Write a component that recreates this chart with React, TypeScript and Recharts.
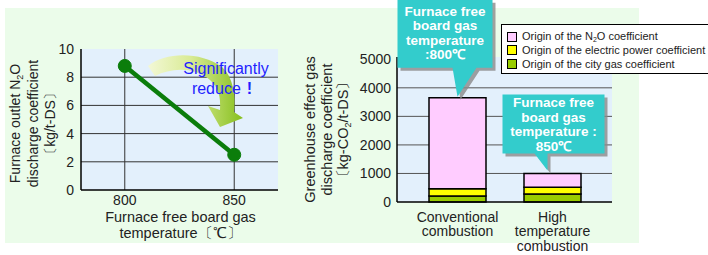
import React from 'react';
import {
  LineChart,
  Line,
  BarChart,
  Bar,
  XAxis,
  YAxis,
  CartesianGrid,
  ReferenceDot,
  Legend,
} from 'recharts';

// ---------- Left chart data ----------
const temperatures = [800, 850];
const n2oDischarge = [8.8, 2.5];
const leftYTicks = [0, 2, 4, 6, 8, 10];
const leftXTicks = [800, 850];

// ---------- Right chart data ----------
const categories = ['Conventional combustion', 'High temperature combustion'];
const categoryLines = [
  ['Conventional', 'combustion'],
  ['High', 'temperature', 'combustion'],
];
const cityGasCoef = [210, 280];
const electricCoef = [250, 240];
const n2oCoef = [3190, 480];
const rightYTicks = [0, 1000, 2000, 3000, 4000, 5000];
const legendItems = [
  { key: 'n2o', pre: 'Origin of the N', sub: '2', post: 'O coefficient', color: '#ffccff' },
  { key: 'elec', pre: 'Origin of the electric power coefficient', sub: '', post: '', color: '#ffff00' },
  { key: 'city', pre: 'Origin of the city gas coefficient', sub: '', post: '', color: '#99cc00' },
];
const callouts = [
  { cat: 0, lines: ['Furnace free', 'board gas', 'temperature', ':800℃'], dx: 0, dy: -1, box: { x: -60, y: -97, w: 95, h: 68 }, base: [-5, 19], firstBase: -81 },
  { cat: 1, lines: ['Furnace free', 'board gas', 'temperature :', '850℃'], dx: -5, dy: -3, box: { x: -45, y: -76, w: 102, h: 59 }, base: [-13, 0], firstBase: -63 },
];

const lineData = temperatures.map((t, i) => ({ temp: t, n2o: n2oDischarge[i] }));
const barData = categories.map((c, i) => ({
  cat: c,
  city: cityGasCoef[i],
  elec: electricCoef[i],
  n2o: n2oCoef[i],
}));

const FONT = '"Liberation Sans", Arial, sans-serif';
const PLOT_BG = '#e3f0fc';
const TEAL = '#33cccc';

const RotatedLabel = ({ cx, cy, fontSize, children }: any) => (
  <text
    x={cx}
    y={cy}
    dy="0.35em"
    textAnchor="middle"
    fontSize={fontSize}
    fill="#222"
    fontFamily={FONT}
    transform={`rotate(-90 ${cx} ${cy})`}
  >
    {children}
  </text>
);

const LeftYLabel = (props: any) => {
  const vb = props.viewBox || { x: 0, y: 49, width: 81, height: 141 };
  const cy = vb.y + vb.height / 2 + 4;
  return (
    <g>
      <RotatedLabel cx={vb.x + 15} cy={cy} fontSize={14}>
        <tspan>Furnace outlet N</tspan>
        <tspan fontSize={9} dy={3}>2</tspan>
        <tspan dy={-3}>O</tspan>
      </RotatedLabel>
      <RotatedLabel cx={vb.x + 33} cy={cy} fontSize={14}>discharge coefficient</RotatedLabel>
      <RotatedLabel cx={vb.x + 50} cy={cy} fontSize={14}>〔kg/t-DS〕</RotatedLabel>
    </g>
  );
};

const RightYLabel = (props: any) => {
  const vb = props.viewBox || { x: 0, y: 57, width: 107, height: 145 };
  const cy = vb.y + vb.height / 2;
  return (
    <g>
      <RotatedLabel cx={vb.x + 20} cy={cy} fontSize={14.5}>Greenhouse effect gas</RotatedLabel>
      <RotatedLabel cx={vb.x + 37} cy={cy} fontSize={14.5}>discharge coefficient</RotatedLabel>
      <RotatedLabel cx={vb.x + 53} cy={cy} fontSize={14.5}>
        <tspan>〔kg-CO</tspan>
        <tspan fontSize={9} dy={3}>2</tspan>
        <tspan dy={-3}>/t-DS〕</tspan>
      </RotatedLabel>
    </g>
  );
};

const LeftXLabel = (props: any) => {
  const vb = props.viewBox || { x: 81, y: 190, width: 197, height: 50 };
  const cx = vb.x + vb.width / 2 + 1;
  return (
    <text textAnchor="middle" fontSize={14.5} fill="#222" fontFamily={FONT}>
      <tspan x={cx} y={222}>Furnace free board gas</tspan>
      <tspan x={cx} y={238}>temperature〔℃〕</tspan>
    </text>
  );
};

const CategoryTick = (props: any) => {
  const { x, y, payload } = props;
  const idx = categories.indexOf(payload.value);
  const lines = idx >= 0 ? categoryLines[idx] : [String(payload.value)];
  return (
    <text x={x} y={y} textAnchor="middle" fontSize={14} fill="#222" fontFamily={FONT}>
      {lines.map((l, i) => (
        <tspan key={i} x={x} dy={i === 0 ? '0.71em' : 14.5}>
          {l}
        </tspan>
      ))}
    </text>
  );
};

const Callout = ({ cx, cy, cfg }: any) => {
  if (cx == null || cy == null) return null;
  const tx = cx + cfg.dx;
  const ty = cy + cfg.dy;
  const b = cfg.box;
  const left = tx + b.x;
  const top = ty + b.y;
  const right = left + b.w;
  const bottom = top + b.h;
  const pts = [
    [left, top],
    [right, top],
    [right, bottom],
    [tx + cfg.base[1], bottom],
    [tx, ty],
    [tx + cfg.base[0], bottom],
    [left, bottom],
  ];
  const toStr = (ox: number, oy: number) => pts.map((p) => `${p[0] + ox},${p[1] + oy}`).join(' ');
  const textX = (left + right) / 2;
  return (
    <g>
      <polygon points={toStr(3, 3)} fill="#8a8a8a" opacity={0.8} />
      <polygon points={toStr(0, 0)} fill={TEAL} />
      <text textAnchor="middle" fontSize={13.5} fontWeight="bold" fill="#fff" fontFamily={FONT}>
        {cfg.lines.map((l: string, i: number) => (
          <tspan key={i} x={textX} y={ty + cfg.firstBase + i * 14.5}>
            {l}
          </tspan>
        ))}
      </text>
    </g>
  );
};

const LegendBox = () => (
  <div
    style={{
      width: 215,
      height: 50,
      border: '1px solid #000',
      background: '#fff',
      boxSizing: 'border-box',
      fontFamily: FONT,
      fontSize: 11,
      color: '#222',
      paddingTop: 5,
    }}
  >
    {legendItems.map((it) => (
      <div key={it.key} style={{ display: 'flex', alignItems: 'center', height: 13.5, whiteSpace: 'nowrap' }}>
        <span
          style={{
            display: 'inline-block',
            width: 10,
            height: 10,
            boxSizing: 'border-box',
            border: '1px solid #000',
            background: it.color,
            marginLeft: 5,
            marginRight: 5,
          }}
        />
        <span>
          {it.pre}
          {it.sub ? <sub style={{ fontSize: 7, verticalAlign: '-2px' }}>{it.sub}</sub> : null}
          {it.post}
        </span>
      </div>
    ))}
  </div>
);

const ArrowOverlay = () => (
  <svg width={300} height={255} style={{ position: 'absolute', left: 0, top: 0, pointerEvents: 'none' }}>
    <defs>
      <linearGradient id="arrowGrad" x1="148" y1="0" x2="243" y2="0" gradientUnits="userSpaceOnUse">
        <stop offset="0" stopColor="#f3f8d6" />
        <stop offset="0.45" stopColor="#d9eb95" />
        <stop offset="1" stopColor="#86bf1c" />
      </linearGradient>
    </defs>
    <path
      d="M148,66 C165,52 200,51 222,67 C233,77 236,95 234,112 L243,118 L220,127 L208,106 L220,110 C221,96 218,87 210,80 C195,67 172,67 155,76 Z"
      fill="url(#arrowGrad)"
    />
    <text textAnchor="middle" fontSize={16} fill="#1f1fff" fontFamily={FONT}>
      <tspan x={226} y={74}>Significantly</tspan>
      <tspan x={222} y={94}>
        reduce
        <tspan fontWeight="bold" dx={6}>!</tspan>
      </tspan>
    </text>
  </svg>
);

export default function App() {
  return (
    <div
      style={{
        position: 'absolute',
        left: 0,
        top: 0,
        width: 708,
        height: 255,
        overflow: 'hidden',
        background: '#fff',
        fontFamily: FONT,
      }}
    >
      <div
        style={{ position: 'absolute', left: 5, top: 8, width: 634, height: 235, background: '#ebfcea' }}
      />

      {/* Left chart */}
      <div style={{ position: 'absolute', left: 0, top: 0 }}>
        <LineChart width={300} height={255} data={lineData} margin={{ top: 49, right: 22, bottom: 15, left: 0 }}>
          <CartesianGrid
            fill={PLOT_BG}
            stroke="#333"
            strokeWidth={1}
            horizontalValues={[2, 4, 6, 8]}
            verticalValues={leftXTicks}
          />
          <XAxis
            dataKey="temp"
            type="number"
            domain={[780, 870]}
            ticks={leftXTicks}
            height={50}
            tickLine={false}
            tickSize={3}
            tickMargin={2}
            axisLine={{ stroke: '#000', strokeWidth: 1.5 }}
            tick={{ fill: '#222', fontSize: 14, fontFamily: FONT }}
            label={{ content: LeftXLabel }}
          />
          <XAxis
            xAxisId="top"
            orientation="top"
            dataKey="temp"
            type="number"
            domain={[780, 870]}
            height={0}
            tick={false}
            tickLine={false}
            axisLine={{ stroke: '#000', strokeWidth: 1.5 }}
          />
          <YAxis
            type="number"
            domain={[0, 10]}
            ticks={leftYTicks}
            width={81}
            tickLine={false}
            tickSize={5}
            tickMargin={2}
            axisLine={{ stroke: '#000', strokeWidth: 1.5 }}
            tick={{ fill: '#222', fontSize: 14, fontFamily: FONT }}
            label={{ content: LeftYLabel }}
          />
          <YAxis
            yAxisId="right"
            orientation="right"
            type="number"
            domain={[0, 10]}
            width={0}
            tick={false}
            tickLine={false}
            axisLine={{ stroke: '#000', strokeWidth: 1.5 }}
          />
          <Line
            dataKey="n2o"
            stroke="#0b7d0b"
            strokeWidth={4.5}
            dot={{ r: 6.5, fill: '#0b7d0b', stroke: '#0b7d0b', strokeWidth: 1 }}
            isAnimationActive={false}
          />
        </LineChart>
        <ArrowOverlay />
      </div>

      {/* Right chart */}
      <div style={{ position: 'absolute', left: 290, top: 0 }}>
        <BarChart
          width={418}
          height={255}
          data={barData}
          barSize={57}
          margin={{ top: 57, right: 96, bottom: 3, left: 0 }}
        >
          <CartesianGrid
            fill={PLOT_BG}
            stroke="#555"
            strokeWidth={1}
            vertical={false}
            horizontalValues={[1000, 2000, 3000, 4000]}
          />
          <XAxis
            dataKey="cat"
            height={50}
            padding={{ left: 13, right: 12 }}
            tickLine={false}
            tickSize={4}
            tickMargin={6}
            interval={0}
            axisLine={{ stroke: '#000', strokeWidth: 1.5 }}
            tick={<CategoryTick />}
          />
          <XAxis
            xAxisId="top"
            orientation="top"
            dataKey="cat"
            height={0}
            tick={false}
            tickLine={false}
            axisLine={{ stroke: '#000', strokeWidth: 1.5 }}
          />
          <YAxis
            type="number"
            domain={[0, 5080]}
            ticks={rightYTicks}
            width={107}
            tickLine={false}
            tickSize={4}
            tickMargin={2}
            axisLine={{ stroke: '#000', strokeWidth: 1.5 }}
            tick={{ fill: '#222', fontSize: 14, fontFamily: FONT }}
            label={{ content: RightYLabel }}
          />
          <YAxis
            yAxisId="right"
            orientation="right"
            type="number"
            domain={[0, 5080]}
            width={0}
            tick={false}
            tickLine={false}
            axisLine={{ stroke: '#000', strokeWidth: 1.5 }}
          />
          <Legend
            layout="horizontal"
            verticalAlign="middle"
            align="center"
            content={<LegendBox />}
            wrapperStyle={{ position: 'absolute', left: 211, top: 24, width: 215, height: 50 }}
          />
          <Bar dataKey="city" stackId="a" fill="#99cc00" stroke="#000" strokeWidth={1.5} isAnimationActive={false} />
          <Bar dataKey="elec" stackId="a" fill="#ffff00" stroke="#000" strokeWidth={1.5} isAnimationActive={false} />
          <Bar dataKey="n2o" stackId="a" fill="#ffccff" stroke="#000" strokeWidth={1.5} isAnimationActive={false} />
          {callouts.map((c, i) => (
            <ReferenceDot
              key={i}
              x={categories[c.cat]}
              y={cityGasCoef[c.cat] + electricCoef[c.cat] + n2oCoef[c.cat]}
              r={0}
              ifOverflow="visible"
              shape={(p: any) => <Callout cx={p.cx} cy={p.cy} cfg={c} />}
            />
          ))}
        </BarChart>
      </div>
    </div>
  );
}
